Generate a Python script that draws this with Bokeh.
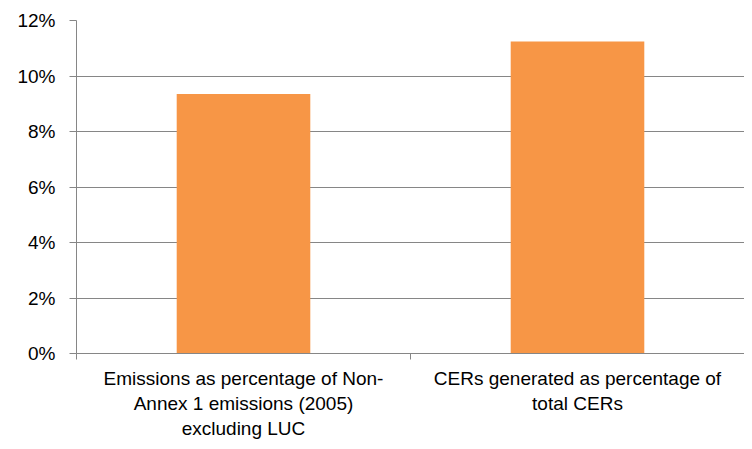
from bokeh.plotting import figure
from bokeh.models import Range1d, FixedTicker, NumeralTickFormatter
from bokeh.embed import file_html
from bokeh.resources import INLINE

categories = [
    "Emissions as percentage of Non-\nAnnex 1 emissions (2005)\nexcluding LUC",
    "CERs generated as percentage of\ntotal CERs",
]
values = [0.0935, 0.1124]
y_ticks = [0.0, 0.02, 0.04, 0.06, 0.08, 0.10, 0.12]

n = len(categories)
centers = [i + 0.5 for i in range(n)]
bounds = [float(i) for i in range(n + 1)]

p = figure(width=744, height=441, output_backend="svg", toolbar_location=None,
           x_range=Range1d(0, n), y_range=Range1d(0, 0.12),
           min_border_left=76, min_border_right=0, min_border_top=20, min_border_bottom=83)
p.outline_line_color = None
p.background_fill_color = "white"
p.border_fill_color = "white"

p.vbar(x=centers, top=values, width=0.4, bottom=0, fill_color="#F79646", line_color=None)

font = "Liberation Sans"
gray = "#868686"

# y axis
p.yaxis.ticker = FixedTicker(ticks=y_ticks)
p.yaxis.formatter = NumeralTickFormatter(format="0%")
p.yaxis.axis_line_color = gray
p.yaxis.major_tick_line_color = gray
p.yaxis.major_tick_out = 7
p.yaxis.major_tick_in = 0
p.yaxis.minor_tick_line_color = None
p.yaxis.major_label_text_font = font
p.yaxis.major_label_text_font_size = "19px"
p.yaxis.major_label_text_color = "black"
p.yaxis.major_label_standoff = 14

# x axis
p.xaxis.ticker = FixedTicker(ticks=centers, minor_ticks=bounds)
p.xaxis.major_label_overrides = {c: lab for c, lab in zip(centers, categories)}
p.xaxis.axis_line_color = gray
p.xaxis.major_tick_line_color = None
p.xaxis.minor_tick_line_color = gray
p.xaxis.minor_tick_out = 6
p.xaxis.minor_tick_in = 0
p.xaxis.major_label_text_font = font
p.xaxis.major_label_text_font_size = "19px"
p.xaxis.major_label_text_color = "black"
p.xaxis.major_label_standoff = 8

p.xgrid.grid_line_color = None
p.ygrid.ticker = FixedTicker(ticks=y_ticks)
p.ygrid.grid_line_color = gray
p.ygrid.grid_line_width = 1

open("out.html", "w").write(file_html(p, INLINE))
